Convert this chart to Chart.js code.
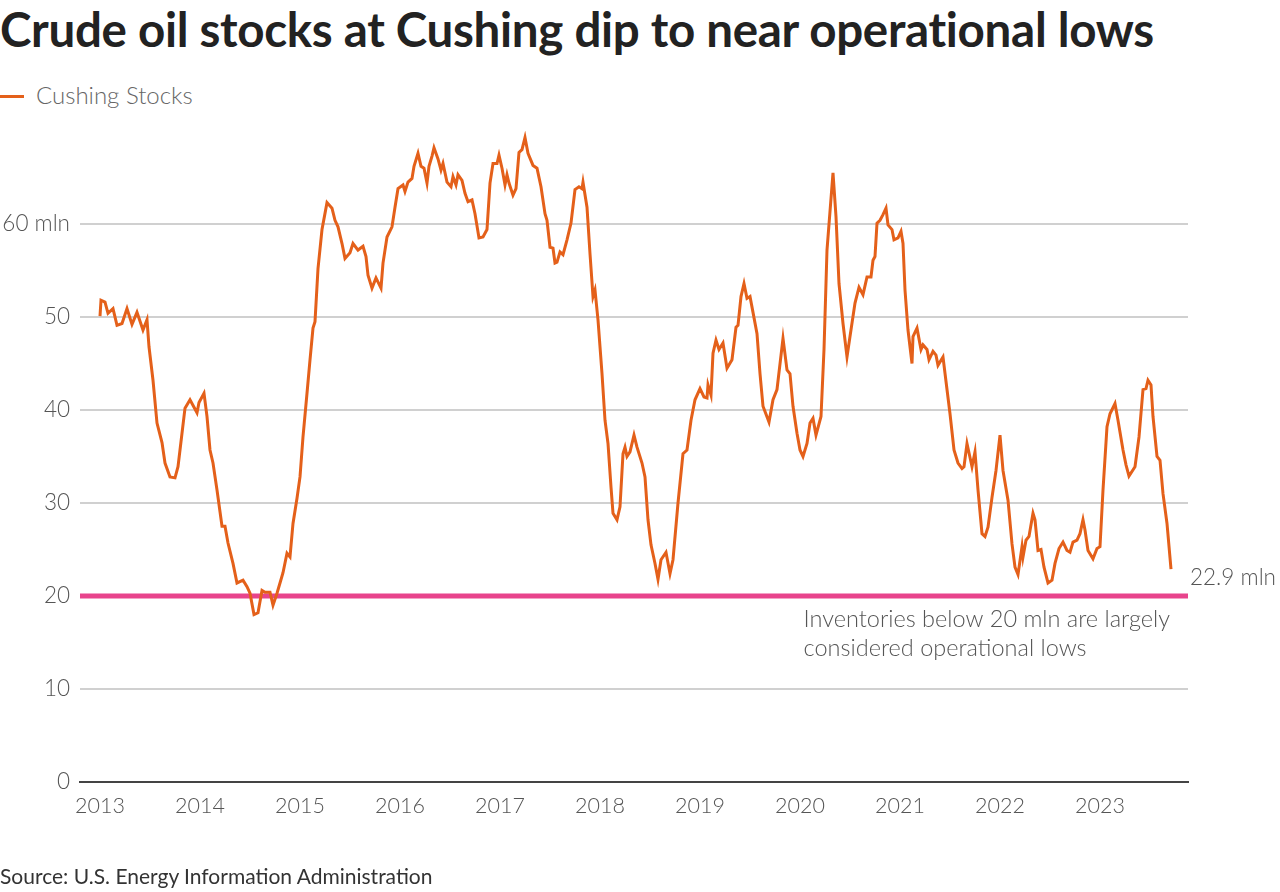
<!DOCTYPE html>
<html>
<head>
<meta charset="utf-8">
<script src="https://cdn.jsdelivr.net/npm/chart.js@4"></script>
<style>
  body { margin: 0; background: #fff; width: 1280px; height: 892px; overflow: hidden; position: relative; font-family: Lato, "Open Sans", sans-serif; }
  #title { position: absolute; left: 0; top: 0px; font-size: 47.5px; font-weight: 700; color: #222; white-space: nowrap; letter-spacing: -0.3px; }
  #legend { position: absolute; left: 0; top: 80px; font-size: 24px; font-weight: 300; color: #666; }
  #legend span { display: inline-block; width: 24px; height: 3px; background: #e4601a; vertical-align: middle; margin-right: 12px; position: relative; top: -2px; }
  #source { position: absolute; left: 0; top: 863px; font-size: 21px; color: #333; }
  #wrap { position: absolute; left: 0; top: 0; width: 1280px; height: 892px; }
</style>
</head>
<body>
<div id="title">Crude oil stocks at Cushing dip to near operational lows</div>
<div id="legend"><span></span>Cushing Stocks</div>
<div id="wrap"><canvas id="myChart"></canvas></div>
<div id="source">Source: U.S. Energy Information Administration</div>
<script>
'use strict'

// weekly-ish readings, decimal years
let dates = [
  2013.00,2013.01,2013.05,2013.08,2013.13,2013.17,2013.22,2013.27,2013.32,2013.37,2013.43,2013.47,2013.49,2013.53,2013.57,2013.62,2013.65,2013.70,2013.75,2013.78,
  2013.80,2013.85,2013.90,2013.97,2013.99,2014.04,2014.07,2014.10,2014.13,2014.17,2014.22,2014.25,2014.28,2014.33,2014.37,2014.43,2014.47,2014.50,2014.54,2014.58,
  2014.62,2014.65,2014.70,2014.73,2014.77,2014.80,2014.83,2014.87,2014.90,2014.93,2014.97,2015.00,2015.03,2015.07,2015.10,2015.13,2015.15,2015.18,2015.22,2015.27,
  2015.32,2015.35,2015.38,2015.42,2015.45,2015.50,2015.53,2015.58,2015.63,2015.66,2015.68,2015.72,2015.76,2015.81,2015.83,2015.87,2015.92,2015.95,2015.98,2016.03,
  2016.05,2016.08,2016.12,2016.14,2016.18,2016.21,2016.24,2016.27,2016.29,2016.32,2016.34,2016.38,2016.41,2016.43,2016.47,2016.51,2016.53,2016.56,2016.58,2016.62,
  2016.65,2016.68,2016.72,2016.75,2016.79,2016.83,2016.87,2016.90,2016.93,2016.97,2016.99,2017.02,2017.05,2017.07,2017.09,2017.13,2017.16,2017.19,2017.22,2017.25,
  2017.28,2017.33,2017.37,2017.41,2017.45,2017.47,2017.50,2017.53,2017.55,2017.57,2017.60,2017.63,2017.67,2017.71,2017.75,2017.79,2017.82,2017.83,2017.87,2017.90,
  2017.93,2017.95,2017.98,2018.02,2018.05,2018.08,2018.11,2018.13,2018.17,2018.20,2018.23,2018.25,2018.27,2018.30,2018.34,2018.37,2018.42,2018.45,2018.48,2018.51,
  2018.55,2018.58,2018.61,2018.66,2018.70,2018.73,2018.78,2018.83,2018.87,2018.91,2018.95,2019.00,2019.04,2019.07,2019.08,2019.11,2019.13,2019.16,2019.19,2019.23,
  2019.27,2019.32,2019.36,2019.38,2019.41,2019.44,2019.47,2019.50,2019.53,2019.57,2019.60,2019.63,2019.69,2019.73,2019.77,2019.83,2019.87,2019.90,2019.93,2019.97,
  2020.00,2020.03,2020.07,2020.10,2020.13,2020.16,2020.21,2020.24,2020.27,2020.33,2020.36,2020.39,2020.43,2020.47,2020.50,2020.55,2020.59,2020.63,2020.67,2020.71,
  2020.73,2020.75,2020.77,2020.80,2020.83,2020.86,2020.88,2020.92,2020.94,2020.98,2021.01,2021.03,2021.05,2021.08,2021.12,2021.13,2021.17,2021.21,2021.23,2021.27,
  2021.29,2021.33,2021.36,2021.38,2021.43,2021.47,2021.50,2021.54,2021.58,2021.62,2021.64,2021.67,2021.72,2021.75,2021.78,2021.82,2021.85,2021.88,2021.92,2021.96,
  2022.00,2022.03,2022.08,2022.12,2022.15,2022.18,2022.22,2022.23,2022.26,2022.29,2022.33,2022.35,2022.38,2022.41,2022.44,2022.48,2022.52,2022.55,2022.59,2022.63,
  2022.67,2022.70,2022.73,2022.77,2022.80,2022.83,2022.85,2022.88,2022.93,2022.97,2023.00,2023.03,2023.07,2023.10,2023.15,2023.18,2023.23,2023.26,2023.29,2023.35,
  2023.39,2023.43,2023.46,2023.48,2023.51,2023.53,2023.57,2023.60,2023.63,2023.67,2023.71
];

// million barrels
let stocks = [
  50.1,51.8,51.6,50.4,50.9,49.1,49.3,50.9,49.2,50.5,48.6,49.7,46.8,43.2,38.6,36.5,34.3,32.8,32.7,33.9,
  35.7,40.2,41.1,39.7,40.8,41.8,39.3,35.7,34.3,31.4,27.5,27.5,25.7,23.5,21.4,21.7,21.0,20.3,18.0,18.2,
  20.6,20.4,20.4,19.0,20.3,21.4,22.5,24.6,24.2,27.8,30.5,32.8,37.1,41.8,45.4,48.8,49.5,55.2,59.4,62.3,
  61.7,60.4,59.7,57.9,56.3,56.9,57.9,57.2,57.6,56.5,54.5,53.1,54.2,53.1,55.8,58.6,59.7,61.8,63.8,64.2,
  63.5,64.5,64.9,66.2,67.6,66.2,66.0,64.4,66.2,67.3,68.2,67.0,65.8,66.5,64.5,64.0,65.1,64.2,65.3,64.7,
  63.3,62.4,62.6,61.1,58.5,58.6,59.4,64.4,66.5,66.5,67.4,66.0,64.2,65.3,64.4,63.1,63.8,67.7,68.0,69.3,
  67.6,66.3,66.0,64.0,61.1,60.4,57.5,57.4,55.8,55.9,57.0,56.7,58.3,60.1,63.7,64.0,63.8,64.5,61.8,56.8,
  52.2,52.9,49.7,43.9,38.9,36.4,31.7,28.9,28.2,29.6,35.3,36.0,35.0,35.5,37.3,36.0,34.3,32.8,28.2,25.5,
  23.5,21.8,23.9,24.7,22.4,23.9,30.0,35.3,35.7,38.9,41.1,42.3,41.4,41.3,42.7,41.6,46.1,47.5,46.5,47.2,
  44.5,45.4,48.9,49.1,52.2,53.6,52.0,52.2,50.5,48.2,43.9,40.4,38.7,41.1,42.2,47.7,44.3,43.9,40.4,37.5,
  35.7,35.0,36.4,38.6,39.1,37.3,39.3,46.5,57.2,65.5,60.8,53.6,49.3,45.7,47.9,51.5,53.2,52.4,54.3,54.3,
  56.1,56.5,60.1,60.4,61.0,61.7,59.9,59.4,58.3,58.5,59.2,57.9,52.9,48.6,45.0,47.9,48.8,46.5,47.0,46.5,
  45.4,46.3,45.9,44.8,45.7,42.2,39.6,35.7,34.3,33.7,33.9,36.4,33.9,35.5,31.4,26.7,26.4,27.4,30.6,33.5,
  37.3,33.5,30.3,25.6,23.1,22.3,25.3,24.2,26.0,26.4,28.9,28.2,24.9,25.0,23.1,21.4,21.7,23.5,25.1,25.8,
  24.9,24.7,25.8,26.0,26.7,28.2,27.1,24.9,24.0,25.1,25.3,31.4,38.2,39.6,40.7,38.9,35.7,34.1,32.9,33.9,
  37.1,42.2,42.3,43.2,42.7,39.3,35.0,34.6,31.0,27.8,22.9
];

let yearTicks = [2013,2014,2015,2016,2017,2018,2019,2020,2021,2022,2023];
let yTicks = [0,10,20,30,40,50,60];
let opLow = 20;
let xMin = 2012.8;
let xMax = 2023.88;

let points = dates.map(function(d, i){ return {x: d, y: stocks[i]}; });

let noteLines = ['Inventories below 20 mln are largely', 'considered operational lows'];

const labelPlugin = {
  id: 'labelPlugin',
  afterDatasetsDraw(chart){
    let ctx = chart.ctx;
    let xs = chart.scales.x;
    let ys = chart.scales.y;
    let area = chart.chartArea;
    ctx.save();
    ctx.fillStyle = '#555';
    ctx.textBaseline = 'middle';
    ctx.textAlign = 'left';
    let last = stocks.length - 1;
    ctx.font = '300 22.5px Lato, "Open Sans", sans-serif';
    ctx.fillText(stocks[last] + ' mln', xs.getPixelForValue(dates[last]) + 19, ys.getPixelForValue(stocks[last]) + 9);
    ctx.font = '300 23.5px Lato, "Open Sans", sans-serif';
    let w = ctx.measureText(noteLines[0]).width;
    let nx = area.right - 18 - w;
    let ny = ys.getPixelForValue(opLow) + 23;
    ctx.fillText(noteLines[0], nx, ny);
    ctx.fillText(noteLines[1], nx, ny + 29);
    ctx.restore();
  }
};

const data = {
  datasets: [
    {
      label: 'Cushing Stocks',
      data: points,
      borderColor: '#e4601a',
      borderWidth: 3,
      pointRadius: 0,
      tension: 0,
      order: 1
    },
    {
      label: 'Operational lows',
      data: [{x: xMin, y: opLow}, {x: xMax, y: opLow}],
      borderColor: '#e8448c',
      borderWidth: 5,
      pointRadius: 0,
      order: 2
    }
  ]
};

const config = {
  type: 'line',
  data: data,
  options: {
    responsive: false,
    animation: false,
    layout: { padding: { top: 131, right: 92, bottom: 68, left: 0 } },
    plugins: { legend: { display: false }, tooltip: { enabled: false } },
    scales: {
      x: {
        type: 'linear',
        min: xMin,
        max: xMax,
        afterBuildTicks: function(scale){ scale.ticks = yearTicks.map(function(v){ return {value: v}; }); },
        afterFit: function(scale){ scale.height = 42; },
        grid: { display: false, drawTicks: false },
        border: { display: true, color: '#444', width: 2 },
        ticks: {
          padding: 11,
          color: '#555',
          font: { family: 'Lato, "Open Sans", sans-serif', size: 21.5, weight: '300' },
          maxRotation: 0,
          callback: function(v){ return String(v); }
        }
      },
      y: {
        min: 0,
        max: 70,
        afterBuildTicks: function(scale){ scale.ticks = yTicks.map(function(v){ return {value: v}; }); },
        afterFit: function(scale){ scale.width = 80; },
        grid: {
          color: function(c){ return c.tick && c.tick.value === 0 ? 'rgba(0,0,0,0)' : '#d0d0d0'; },
          lineWidth: 2,
          drawTicks: false
        },
        border: { display: false },
        ticks: {
          padding: 10,
          color: '#555',
          font: { family: 'Lato, "Open Sans", sans-serif', size: 22.5, weight: '300' },
          callback: function(v){ return v === 60 ? '60 mln' : String(v); }
        }
      }
    }
  },
  plugins: [labelPlugin]
};

let canvas = document.getElementById('myChart');
canvas.width = 1280;
canvas.height = 892;
var myChart = new Chart(canvas, config);
</script>
</body>
</html>
